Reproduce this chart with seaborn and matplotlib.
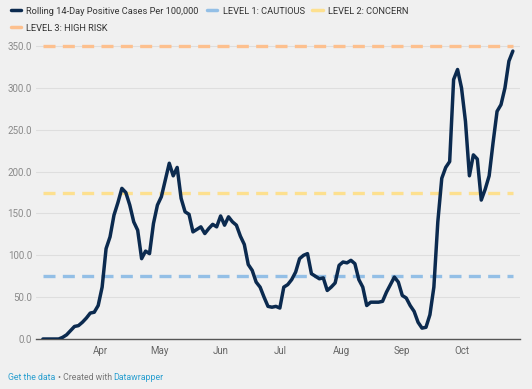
import pandas as pd
import seaborn as sns
import matplotlib.dates as mdates
from matplotlib import pyplot as plt
from matplotlib.lines import Line2D

# rolling 14-day positive cases per 100,000, every 2 days from Mar 3 2020
start_date = '2020-03-03'
cases = [0, 0, 0, 0, 0, 2, 5, 10, 15, 16,
         20, 25, 31, 32, 40, 62, 108, 122, 148, 163,
         180, 175, 160, 140, 130, 96, 105, 102, 138, 160,
         170, 190, 210, 195, 205, 168, 152, 149, 128, 131,
         134, 126, 132, 137, 134, 147, 136, 146, 140, 136,
         123, 113, 89, 82, 68, 62, 50, 39, 38, 39,
         37, 62, 65, 71, 80, 96, 100, 102, 78, 75,
         72, 73, 58, 62, 67, 88, 92, 91, 94, 90,
         71, 62, 40, 44, 44, 44, 45, 56, 65, 74,
         68, 52, 49, 40, 33, 20, 13, 14, 29, 62,
         140, 192, 205, 212, 310, 322, 300, 260, 195, 220,
         215, 166, 179, 195, 235, 272, 280, 300, 332, 344]

level_names = ['LEVEL 1: CAUTIOUS', 'LEVEL 2: CONCERN', 'LEVEL 3: HIGH RISK']
level_values = [75, 175, 350]
level_colors = ['#93bfe6', '#fde08f', '#fdc08e']
line_label = 'Rolling 14-Day Positive Cases Per 100,000'
line_color = '#0b2a4f'
month_ticks = ['2020-04-01', '2020-05-01', '2020-06-01', '2020-07-01',
               '2020-08-01', '2020-09-01', '2020-10-01']

df = pd.DataFrame({
    'date': pd.date_range(start_date, periods=len(cases), freq='2D'),
    'cases': cases,
})

sns.set_style('white')
plt.rcParams['font.family'] = ['Roboto', 'DejaVu Sans']
bg = '#f0f0f0'

fig = plt.figure(figsize=(5.32, 3.89), dpi=100, facecolor=bg)
ax = fig.add_axes([0.068, 0.1285, 0.909, 0.766])
ax.set_facecolor(bg)

first, last = df['date'].iloc[0], df['date'].iloc[-1]
for val, col in zip(level_values, level_colors):
    ax.plot([first, last], [val, val], color=col, lw=2.4,
            dashes=(3.6, 2.2), solid_capstyle='butt', zorder=2)

sns.lineplot(data=df, x='date', y='cases', ax=ax, color=line_color,
             lw=2.5, zorder=3)

ax.set_xlim(first - pd.Timedelta(days=3.4), last + pd.Timedelta(days=3.5))
ax.set_ylim(0, 356)
ax.set_yticks(range(0, 351, 50))
ax.set_yticklabels([f'{v:.1f}' for v in range(0, 351, 50)])
ax.set_xticks(pd.to_datetime(month_ticks))
ax.xaxis.set_major_formatter(mdates.DateFormatter('%b'))
ax.tick_params(axis='y', length=0, pad=3, labelsize=7, labelcolor='#8a8a8a')
ax.tick_params(axis='x', length=0, pad=5, labelsize=7, labelcolor='#666666')
ax.grid(axis='y', color='#dedede', lw=0.8)
ax.set_axisbelow(True)
ax.set_xlabel('')
ax.set_ylabel('')
for s in ['top', 'right', 'left']:
    ax.spines[s].set_visible(False)
ax.spines['bottom'].set_color('#555555')
ax.spines['bottom'].set_linewidth(1)

handles = [Line2D([], [], color=line_color, lw=2.5, solid_capstyle='round'),
           Line2D([], [], color=level_colors[2], lw=2.5, solid_capstyle='round'),
           Line2D([], [], color=level_colors[0], lw=2.5, solid_capstyle='round'),
           Line2D([], [], color=level_colors[1], lw=2.5, solid_capstyle='round')]
labels = [line_label, level_names[2], level_names[0], level_names[1]]
fig.legend(handles, labels, ncol=3, loc='upper left',
           bbox_to_anchor=(6 / 532, 1 - 2 / 389), frameon=False,
           fontsize=6.7, handlelength=1.15, handletextpad=0.55,
           columnspacing=0.85, labelspacing=0.85, borderpad=0,
           labelcolor='#333333')

fig.text(8 / 532, 1 - 377 / 389, 'Get the data', color='#2a9fd0',
         fontsize=6.3, va='center')
fig.text(57.5 / 532, 1 - 377 / 389, '\u2022 Created with', color='#777777',
         fontsize=6.3, va='center')
fig.text(113.5 / 532, 1 - 377 / 389, 'Datawrapper', color='#2a9fd0',
         fontsize=6.3, va='center')

fig.savefig('out.png', dpi=100, facecolor=bg)
